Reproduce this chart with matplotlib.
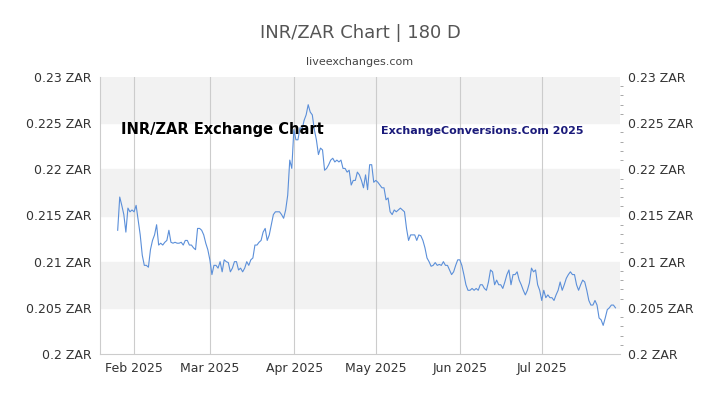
import matplotlib
matplotlib.use("Agg")
import matplotlib.pyplot as plt
import pandas as pd
import numpy as np

values = [0.2134,0.2170,0.2161,0.2151,0.2132,0.2158,0.2154,0.2156,0.2154,0.2161,0.2145,0.2129,0.2107,0.2096,0.2096,0.2094,0.2113,0.2123,0.2129,0.2140,
0.2118,0.2120,0.2118,0.2121,0.2123,0.2134,0.2121,0.2120,0.2121,0.2120,0.2120,0.2121,0.2118,0.2123,0.2123,0.2118,0.2118,0.2115,0.2113,0.2136,
0.2136,0.2134,0.2129,0.2120,0.2113,0.2102,0.2086,0.2096,0.2096,0.2093,0.2100,0.2089,0.2102,0.2100,0.2099,0.2089,0.2093,0.2100,0.2100,0.2091,
0.2093,0.2089,0.2093,0.2100,0.2096,0.2102,0.2104,0.2118,0.2118,0.2121,0.2123,0.2132,0.2136,0.2123,0.2129,0.2140,0.2151,0.2154,0.2154,0.2154,
0.2151,0.2147,0.2156,0.2172,0.2210,0.2201,0.2243,0.2232,0.2232,0.2245,0.2243,0.2253,0.2259,0.2270,0.2262,0.2259,0.2243,0.2232,0.2216,0.2223,
0.2221,0.2199,0.2201,0.2205,0.2210,0.2212,0.2208,0.2210,0.2208,0.2210,0.2201,0.2201,0.2197,0.2199,0.2183,0.2188,0.2188,0.2197,0.2194,0.2188,
0.2180,0.2194,0.2178,0.2205,0.2205,0.2186,0.2188,0.2186,0.2183,0.2180,0.2180,0.2167,0.2169,0.2154,0.2151,0.2156,0.2154,0.2156,0.2158,0.2156,
0.2154,0.2136,0.2123,0.2129,0.2129,0.2129,0.2123,0.2129,0.2128,0.2123,0.2115,0.2104,0.2100,0.2095,0.2096,0.2099,0.2096,0.2097,0.2096,0.2100,
0.2096,0.2096,0.2091,0.2086,0.2089,0.2096,0.2102,0.2102,0.2096,0.2086,0.2075,0.2069,0.2069,0.2071,0.2069,0.2071,0.2069,0.2075,0.2075,0.2071,
0.2069,0.2078,0.2091,0.2089,0.2075,0.2080,0.2075,0.2075,0.2071,0.2078,0.2086,0.2091,0.2075,0.2086,0.2086,0.2089,0.2080,0.2075,0.2069,0.2064,
0.2069,0.2077,0.2093,0.2089,0.2091,0.2075,0.2069,0.2058,0.2069,0.2061,0.2064,0.2061,0.2061,0.2058,0.2064,0.2069,0.2078,0.2069,0.2075,0.2082,
0.2086,0.2089,0.2086,0.2086,0.2075,0.2069,0.2075,0.2080,0.2078,0.2069,0.2058,0.2053,0.2053,0.2058,0.2053,0.2039,0.2037,0.2031,0.2039,0.2048,
0.2050,0.2053,0.2053,0.2050]
dates = pd.date_range("2025-01-26", "2025-07-28", periods=len(values))

yticks = [0.2, 0.205, 0.21, 0.215, 0.22, 0.225, 0.23]
ytick_labels = ["0.2 ZAR","0.205 ZAR","0.21 ZAR","0.215 ZAR","0.22 ZAR","0.225 ZAR","0.23 ZAR"]
month_ticks = pd.to_datetime(["2025-02-01","2025-03-01","2025-04-01","2025-05-01","2025-06-01","2025-07-01"])
month_labels = ["Feb 2025","Mar 2025","Apr 2025","May 2025","Jun 2025","Jul 2025"]

fig = plt.figure(figsize=(7.2, 4.05), dpi=100)
ax = fig.add_axes([100/720, 51/405, 520/720, 277/405])
ax.set_ylim(0.2, 0.23)
ax.set_xlim(pd.Timestamp("2025-01-19 12:00"), pd.Timestamp("2025-07-29 16:00"))
for lo in [0.205, 0.215, 0.225]:
    ax.axhspan(lo, lo + 0.005, color="#f2f2f2", zorder=0)
for d in month_ticks:
    ax.axvline(d, color="#cccccc", lw=0.8, zorder=1)
ax.plot(dates, values, color="#5b8fd9", lw=0.8, zorder=3)
ax.set_yticks(yticks)
ax.set_yticklabels(ytick_labels)
ax.set_xticks(month_ticks)
ax.set_xticklabels(month_labels)
ax.tick_params(axis="both", labelsize=9, colors="#333333", length=0, pad=6)
ax.tick_params(axis="y", labelright=True, right=False)
ax.set_yticks(np.arange(0.2, 0.2301, 0.001), minor=True)
ax.tick_params(axis="y", which="minor", left=False, right=True, length=2, color="#999999")
for s in ax.spines.values():
    s.set_visible(False)
ax.spines["left"].set_visible(True)
ax.spines["left"].set_color("#cccccc")
ax.spines["bottom"].set_visible(True)
ax.spines["bottom"].set_color("#cccccc")

fig.text(0.5, 0.905, "INR/ZAR Chart | 180 D", ha="center", fontsize=13, color="#555555")
fig.text(0.5, 0.84, "liveexchanges.com", ha="center", fontsize=8, color="#444444")
ax.text(0.04, 0.795, "INR/ZAR Exchange Chart", transform=ax.transAxes, fontsize=10.5,
        fontweight="bold", color="black")
ax.text(0.54, 0.795, "ExchangeConversions.Com 2025", transform=ax.transAxes, fontsize=8,
        fontweight="bold", color="#1a1a7a")
fig.savefig("out.png", dpi=100)
